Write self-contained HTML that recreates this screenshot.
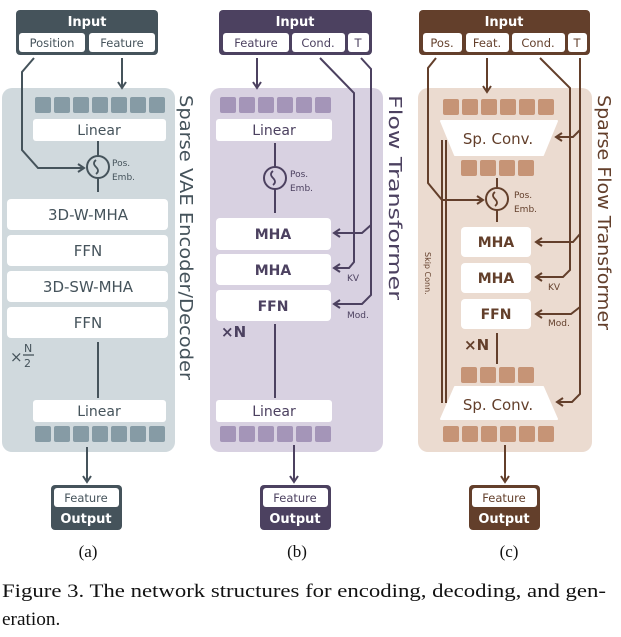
<!DOCTYPE html>
<html><head><meta charset="utf-8"><style>
html,body{margin:0;padding:0;background:#fff;width:621px;height:637px;overflow:hidden}
svg text{font-family:"DejaVu Sans","Liberation Sans",sans-serif}
.cap{font-family:"Liberation Serif",serif!important}
</style></head><body>
<svg width="621" height="637" viewBox="0 0 621 637" xmlns="http://www.w3.org/2000/svg">
<defs>
<marker id="aA" markerWidth="10" markerHeight="10" refX="7" refY="5" orient="auto" markerUnits="userSpaceOnUse"><path d="M1,1 L7,5 L1,9" fill="none" stroke="#45535b" stroke-width="2"/></marker>
<marker id="aB" markerWidth="10" markerHeight="10" refX="7" refY="5" orient="auto" markerUnits="userSpaceOnUse"><path d="M1,1 L7,5 L1,9" fill="none" stroke="#4c4160" stroke-width="2"/></marker>
<marker id="aC" markerWidth="10" markerHeight="10" refX="7" refY="5" orient="auto" markerUnits="userSpaceOnUse"><path d="M1,1 L7,5 L1,9" fill="none" stroke="#633f2b" stroke-width="2"/></marker>
</defs>

<!-- ===== Panel A ===== -->
<g>
<rect x="2" y="88" width="173" height="364" rx="10" fill="#d0d9dd"/>
<rect x="16" y="10" width="142" height="45" rx="4" fill="#45535b"/>
<text x="87" y="26" font-size="13" font-weight="bold" fill="#fff" text-anchor="middle">Input</text>
<rect x="19" y="33" width="66" height="19" rx="3" fill="#fff"/>
<rect x="89" y="33" width="66" height="19" rx="3" fill="#fff"/>
<text x="52" y="47" font-size="11.5" fill="#45535b" text-anchor="middle">Position</text>
<text x="122" y="47" font-size="11.5" fill="#45535b" text-anchor="middle">Feature</text>
<g fill="#869ba5">
<rect x="35" y="97" width="16" height="16" rx="2"/><rect x="54" y="97" width="16" height="16" rx="2"/><rect x="73" y="97" width="16" height="16" rx="2"/><rect x="92" y="97" width="16" height="16" rx="2"/><rect x="111" y="97" width="16" height="16" rx="2"/><rect x="130" y="97" width="16" height="16" rx="2"/><rect x="149" y="97" width="16" height="16" rx="2"/>
</g>
<rect x="33" y="119" width="133" height="22" rx="3" fill="#fff"/>
<text x="99" y="135" font-size="14" fill="#45535b" text-anchor="middle">Linear</text>
<path d="M98,141 V156 M98,178 V192" stroke="#45535b" stroke-width="2"/>
<circle cx="98" cy="167" r="11" fill="none" stroke="#45535b" stroke-width="2"/>
<path d="M96,160 q-4,3 0,7 q4,4 0,7" fill="none" stroke="#45535b" stroke-width="1.8"/>
<text x="112" y="166" font-size="9" fill="#45535b">Pos.</text>
<text x="112" y="180" font-size="9" fill="#45535b">Emb.</text>
<path d="M34,58 L22,72 V150 L38,168 H84" fill="none" stroke="#45535b" stroke-width="2" marker-end="url(#aA)"/>
<path d="M122,58 V88" fill="none" stroke="#45535b" stroke-width="2" marker-end="url(#aA)"/>
<rect x="7" y="199" width="161" height="31" rx="4" fill="#fff"/>
<rect x="7" y="235" width="161" height="31" rx="4" fill="#fff"/>
<rect x="7" y="271" width="161" height="31" rx="4" fill="#fff"/>
<rect x="7" y="307" width="161" height="31" rx="4" fill="#fff"/>
<g font-size="15" fill="#45535b" text-anchor="middle">
<text x="88" y="220">3D-W-MHA</text><text x="88" y="256">FFN</text><text x="88" y="292">3D-SW-MHA</text><text x="88" y="328">FFN</text>
</g>
<text x="10" y="362" font-size="15" fill="#45535b">×</text>
<text x="24" y="352" font-size="11" fill="#45535b">N</text>
<path d="M23,355 H34" stroke="#45535b" stroke-width="1.3"/>
<text x="24" y="367" font-size="11" fill="#45535b">2</text>
<path d="M98,342 V398" stroke="#45535b" stroke-width="2"/>
<rect x="33" y="400" width="133" height="22" rx="3" fill="#fff"/>
<text x="99" y="416" font-size="14" fill="#45535b" text-anchor="middle">Linear</text>
<g fill="#869ba5">
<rect x="35" y="426" width="16" height="16" rx="2"/><rect x="54" y="426" width="16" height="16" rx="2"/><rect x="73" y="426" width="16" height="16" rx="2"/><rect x="92" y="426" width="16" height="16" rx="2"/><rect x="111" y="426" width="16" height="16" rx="2"/><rect x="130" y="426" width="16" height="16" rx="2"/><rect x="149" y="426" width="16" height="16" rx="2"/>
</g>
<path d="M87,447 V482" stroke="#45535b" stroke-width="2" marker-end="url(#aA)"/>
<rect x="51" y="485" width="71" height="45" rx="4" fill="#45535b"/>
<rect x="54" y="488" width="65" height="19" rx="3" fill="#fff"/>
<text x="86" y="502" font-size="11.5" fill="#45535b" text-anchor="middle">Feature</text>
<text x="86" y="523" font-size="13" font-weight="bold" fill="#fff" text-anchor="middle">Output</text>
<text transform="translate(180,95) rotate(90)" font-size="18" fill="#45535b" textLength="285" lengthAdjust="spacingAndGlyphs">Sparse VAE Encoder/Decoder</text>
</g>

<!-- ===== Panel B ===== -->
<g>
<rect x="210" y="88" width="173" height="364" rx="10" fill="#d8d1e1"/>
<rect x="219" y="10" width="153" height="45" rx="4" fill="#4c4160"/>
<text x="295" y="26" font-size="13" font-weight="bold" fill="#fff" text-anchor="middle">Input</text>
<rect x="223" y="33" width="66" height="19" rx="3" fill="#fff"/>
<rect x="292" y="33" width="53" height="19" rx="3" fill="#fff"/>
<rect x="348" y="33" width="21" height="19" rx="3" fill="#fff"/>
<text x="256" y="47" font-size="11.5" fill="#4c4160" text-anchor="middle">Feature</text>
<text x="318" y="47" font-size="11.5" fill="#4c4160" text-anchor="middle">Cond.</text>
<text x="358" y="47" font-size="11.5" fill="#4c4160" text-anchor="middle">T</text>
<g fill="#a495b8">
<rect x="220" y="97" width="16" height="16" rx="2"/><rect x="239" y="97" width="16" height="16" rx="2"/><rect x="258" y="97" width="16" height="16" rx="2"/><rect x="277" y="97" width="16" height="16" rx="2"/><rect x="296" y="97" width="16" height="16" rx="2"/><rect x="315" y="97" width="16" height="16" rx="2"/>
</g>
<rect x="216" y="119" width="116" height="22" rx="3" fill="#fff"/>
<text x="274" y="135" font-size="14" fill="#4c4160" text-anchor="middle">Linear</text>
<path d="M275,143 V167 M275,189 V213" stroke="#4c4160" stroke-width="2"/>
<circle cx="275" cy="178" r="11" fill="none" stroke="#4c4160" stroke-width="2"/>
<path d="M273,171 q-4,3 0,7 q4,4 0,7" fill="none" stroke="#4c4160" stroke-width="1.8"/>
<text x="290" y="177" font-size="9" fill="#4c4160">Pos.</text>
<text x="290" y="191" font-size="9" fill="#4c4160">Emb.</text>
<path d="M257,58 V88" stroke="#4c4160" stroke-width="2" marker-end="url(#aB)"/>
<rect x="216" y="218" width="115" height="32" rx="4" fill="#fff"/>
<rect x="216" y="254" width="115" height="31" rx="4" fill="#fff"/>
<rect x="216" y="290" width="115" height="31" rx="4" fill="#fff"/>
<g font-size="14" font-weight="bold" fill="#4c4160" text-anchor="middle">
<text x="273" y="239">MHA</text><text x="273" y="275">MHA</text><text x="273" y="311">FFN</text>
</g>
<path d="M320,58 L354,93 V262 L349,268 H334" fill="none" stroke="#4c4160" stroke-width="2" marker-end="url(#aB)"/>
<path d="M361,58 L371,69 V295 L362,304 H334" fill="none" stroke="#4c4160" stroke-width="2" marker-end="url(#aB)"/>
<path d="M371,225 L362,233 H334" fill="none" stroke="#4c4160" stroke-width="2" marker-end="url(#aB)"/>
<text x="347" y="281" font-size="9" fill="#4c4160">KV</text>
<text x="347" y="318" font-size="9" fill="#4c4160">Mod.</text>
<text x="221" y="337" font-size="15" font-weight="bold" fill="#4c4160">×N</text>
<path d="M275,324 V398" stroke="#4c4160" stroke-width="2"/>
<rect x="216" y="400" width="116" height="22" rx="3" fill="#fff"/>
<text x="274" y="416" font-size="14" fill="#4c4160" text-anchor="middle">Linear</text>
<g fill="#a495b8">
<rect x="220" y="426" width="16" height="16" rx="2"/><rect x="239" y="426" width="16" height="16" rx="2"/><rect x="258" y="426" width="16" height="16" rx="2"/><rect x="277" y="426" width="16" height="16" rx="2"/><rect x="296" y="426" width="16" height="16" rx="2"/><rect x="315" y="426" width="16" height="16" rx="2"/>
</g>
<path d="M294,445 V482" stroke="#4c4160" stroke-width="2" marker-end="url(#aB)"/>
<rect x="260" y="485" width="71" height="45" rx="4" fill="#4c4160"/>
<rect x="263" y="488" width="65" height="19" rx="3" fill="#fff"/>
<text x="295" y="502" font-size="11.5" fill="#4c4160" text-anchor="middle">Feature</text>
<text x="295" y="523" font-size="13" font-weight="bold" fill="#fff" text-anchor="middle">Output</text>
<text transform="translate(389,95) rotate(90)" font-size="18" fill="#4c4160" textLength="205" lengthAdjust="spacingAndGlyphs">Flow Transformer</text>
</g>

<!-- ===== Panel C ===== -->
<g>
<rect x="418" y="88" width="174" height="364" rx="10" fill="#ebdbd0"/>
<rect x="419" y="10" width="171" height="45" rx="4" fill="#633f2b"/>
<text x="504" y="26" font-size="13" font-weight="bold" fill="#fff" text-anchor="middle">Input</text>
<rect x="423" y="33" width="39" height="19" rx="3" fill="#fff"/>
<rect x="466" y="33" width="43" height="19" rx="3" fill="#fff"/>
<rect x="512" y="33" width="53" height="19" rx="3" fill="#fff"/>
<rect x="568" y="33" width="19" height="19" rx="3" fill="#fff"/>
<g font-size="11.5" fill="#633f2b" text-anchor="middle">
<text x="442" y="47">Pos.</text><text x="487" y="47">Feat.</text><text x="538" y="47">Cond.</text><text x="577" y="47">T</text>
</g>
<g fill="#c69476">
<rect x="443" y="99" width="16" height="16" rx="2"/><rect x="462" y="99" width="16" height="16" rx="2"/><rect x="481" y="99" width="16" height="16" rx="2"/><rect x="500" y="99" width="16" height="16" rx="2"/><rect x="519" y="99" width="16" height="16" rx="2"/><rect x="538" y="99" width="16" height="16" rx="2"/>
<rect x="461" y="160" width="16" height="16" rx="2"/><rect x="480" y="160" width="16" height="16" rx="2"/><rect x="499" y="160" width="16" height="16" rx="2"/><rect x="518" y="160" width="16" height="16" rx="2"/>
<rect x="461" y="367" width="16" height="16" rx="2"/><rect x="480" y="367" width="16" height="16" rx="2"/><rect x="499" y="367" width="16" height="16" rx="2"/><rect x="518" y="367" width="16" height="16" rx="2"/>
<rect x="443" y="426" width="16" height="16" rx="2"/><rect x="462" y="426" width="16" height="16" rx="2"/><rect x="481" y="426" width="16" height="16" rx="2"/><rect x="500" y="426" width="16" height="16" rx="2"/><rect x="519" y="426" width="16" height="16" rx="2"/><rect x="538" y="426" width="16" height="16" rx="2"/>
</g>
<path d="M441,121 H557 L543,155 H455 Z" fill="#fff" stroke="#fff" stroke-width="2" stroke-linejoin="round"/>
<text x="498" y="144" font-size="15" fill="#633f2b" text-anchor="middle">Sp. Conv.</text>
<path d="M455,387 H543 L557,419 H441 Z" fill="#fff" stroke="#fff" stroke-width="2" stroke-linejoin="round"/>
<text x="498" y="410" font-size="15" fill="#633f2b" text-anchor="middle">Sp. Conv.</text>
<path d="M487,58 V92" stroke="#633f2b" stroke-width="2" marker-end="url(#aC)"/>
<path d="M497,178 V188 M497,210 V222" stroke="#633f2b" stroke-width="2"/>
<circle cx="497" cy="199" r="11" fill="none" stroke="#633f2b" stroke-width="2"/>
<path d="M495,192 q-4,3 0,7 q4,4 0,7" fill="none" stroke="#633f2b" stroke-width="1.8"/>
<text x="514" y="198" font-size="9" fill="#633f2b">Pos.</text>
<text x="514" y="212" font-size="9" fill="#633f2b">Emb.</text>
<path d="M436,58 L428,68 V183 L442,200 H483" fill="none" stroke="#633f2b" stroke-width="2" marker-end="url(#aC)"/>
<path d="M442,140 V403 M446,140 V403" stroke="#633f2b" stroke-width="2"/>
<text transform="translate(425,252) rotate(90)" font-size="8" fill="#633f2b">Skip Conn.</text>
<rect x="461" y="227" width="70" height="30" rx="4" fill="#fff"/>
<rect x="461" y="263" width="70" height="30" rx="4" fill="#fff"/>
<rect x="461" y="299" width="70" height="30" rx="4" fill="#fff"/>
<g font-size="14" font-weight="bold" fill="#633f2b" text-anchor="middle">
<text x="496" y="247">MHA</text><text x="496" y="283">MHA</text><text x="496" y="319">FFN</text>
</g>
<path d="M540,58 L570,88 V270 L563,277 H536" fill="none" stroke="#633f2b" stroke-width="2" marker-end="url(#aC)"/>
<path d="M580,58 V394 L572,402 H557" fill="none" stroke="#633f2b" stroke-width="2" marker-end="url(#aC)"/>
<path d="M580,130 L573,137 H556" fill="none" stroke="#633f2b" stroke-width="2" marker-end="url(#aC)"/>
<path d="M580,234 L573,242 H536" fill="none" stroke="#633f2b" stroke-width="2" marker-end="url(#aC)"/>
<path d="M580,307 L571,314 H536" fill="none" stroke="#633f2b" stroke-width="2" marker-end="url(#aC)"/>
<text x="548" y="290" font-size="9" fill="#633f2b">KV</text>
<text x="548" y="326" font-size="9" fill="#633f2b">Mod.</text>
<text x="464" y="350" font-size="15" font-weight="bold" fill="#633f2b">×N</text>
<path d="M497,333 V364" stroke="#633f2b" stroke-width="2"/>
<path d="M505,445 V482" stroke="#633f2b" stroke-width="2" marker-end="url(#aC)"/>
<rect x="469" y="485" width="71" height="45" rx="4" fill="#633f2b"/>
<rect x="472" y="488" width="65" height="19" rx="3" fill="#fff"/>
<text x="504" y="502" font-size="11.5" fill="#633f2b" text-anchor="middle">Feature</text>
<text x="504" y="523" font-size="13" font-weight="bold" fill="#fff" text-anchor="middle">Output</text>
<text transform="translate(598,95) rotate(90)" font-size="18" fill="#633f2b" textLength="235" lengthAdjust="spacingAndGlyphs">Sparse Flow Transformer</text>
</g>

<g class="cap" font-size="17" fill="#111" text-anchor="middle">
<text class="cap" x="88" y="557">(a)</text><text class="cap" x="297" y="557">(b)</text><text class="cap" x="509" y="557">(c)</text>
</g>
<text class="cap" x="2" y="597" font-size="19.3" fill="#111" textLength="604" lengthAdjust="spacingAndGlyphs">Figure 3. The network structures for encoding, decoding, and gen-</text>
<text class="cap" x="2" y="625" font-size="19.3" fill="#111">eration.</text>
</svg>
</body></html>
